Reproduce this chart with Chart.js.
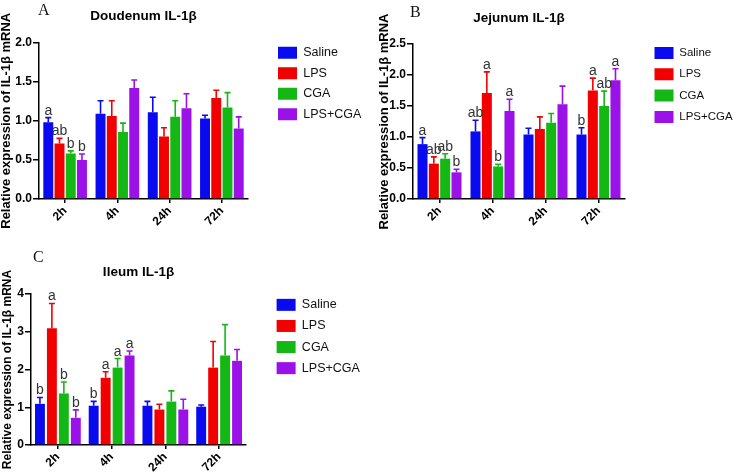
<!DOCTYPE html>
<html>
<head>
<meta charset="utf-8">
<title>IL-1β mRNA</title>
<script src="https://cdn.jsdelivr.net/npm/chart.js@4.4.1/dist/chart.umd.min.js"></script>
<style>
  html, body { margin: 0; padding: 0; background: #fff; }
  #wrap { position: relative; width: 736px; height: 475px; overflow: hidden; }
  .box { position: absolute; }
  .tag { position: absolute; font-family: "Liberation Serif", "Times New Roman", serif; font-size: 16px; line-height: 16px; color: #111; }
</style>
</head>
<body>
<div id="wrap">
  <div class="box" style="left:0;top:0;width:370px;height:232px"><canvas id="duoChart" width="370" height="232"></canvas></div>
  <div class="box" style="left:362px;top:0;width:380px;height:232px"><canvas id="jejChart" width="380" height="232"></canvas></div>
  <div class="box" style="left:0;top:240px;width:370px;height:235px"><canvas id="ileChart" width="370" height="235"></canvas></div>
  <div class="tag" style="left:38px;top:2px">A</div>
  <div class="tag" style="left:410px;top:4px">B</div>
  <div class="tag" style="left:33px;top:249px">C</div>
</div>
<script>
// ── Data ─────────────────────────────────────────────
const timePoints = ['2h', '4h', '24h', '72h'];
const groups     = ['Saline', 'LPS', 'CGA', 'LPS+CGA'];
const colors     = ['#0a0af0', '#f20000', '#14b814', '#9a12e8'];

// Duodenum
const duoSaline     = [0.98, 1.09, 1.11, 1.03];
const duoSalineErr  = [0.06, 0.165, 0.19, 0.04];
const duoLps        = [0.71, 1.06, 0.80, 1.29];
const duoLpsErr     = [0.065, 0.195, 0.11, 0.10];
const duoCga        = [0.58, 0.855, 1.05, 1.17];
const duoCgaErr     = [0.035, 0.115, 0.205, 0.19];
const duoLpsCga     = [0.50, 1.42, 1.16, 0.90];
const duoLpsCgaErr  = [0.075, 0.10, 0.185, 0.15];
const duoLetters    = [['a', '', '', ''], ['ab', '', '', ''], ['b', '', '', ''], ['b', '', '', '']];
const duoTicks      = [0, 0.5, 1.0, 1.5, 2.0];

// Jejunum
const jejSaline     = [0.885, 1.09, 1.04, 1.04];
const jejSalineErr  = [0.105, 0.18, 0.10, 0.11];
const jejLps        = [0.57, 1.71, 1.13, 1.75];
const jejLpsErr     = [0.11, 0.34, 0.195, 0.20];
const jejCga        = [0.65, 0.525, 1.23, 1.50];
const jejCgaErr     = [0.08, 0.035, 0.15, 0.24];
const jejLpsCga     = [0.43, 1.42, 1.53, 1.915];
const jejLpsCgaErr  = [0.05, 0.19, 0.29, 0.185];
const jejLetters    = [['a', 'ab', '', 'b'], ['ab', 'a', '', 'a'], ['ab', 'b', '', 'ab'], ['b', 'a', '', 'a']];
const jejTicks      = [0, 0.5, 1.0, 1.5, 2.0, 2.5];

// Ileum
const ileSaline     = [1.09, 1.04, 1.04, 1.015];
const ileSalineErr  = [0.17, 0.115, 0.115, 0.045];
const ileLps        = [3.09, 1.78, 0.94, 2.05];
const ileLpsErr     = [0.66, 0.16, 0.14, 0.69];
const ileCga        = [1.365, 2.05, 1.15, 2.37];
const ileCgaErr     = [0.305, 0.24, 0.285, 0.82];
const ileLpsCga     = [0.72, 2.37, 0.94, 2.23];
const ileLpsCgaErr  = [0.21, 0.12, 0.27, 0.30];
const ileLetters    = [['b', 'b', '', ''], ['a', 'a', '', ''], ['b', 'a', '', ''], ['b', 'a', '', '']];
const ileTicks      = [0, 1, 2, 3, 4];

Chart.defaults.font.family = '"Liberation Sans", Arial, Helvetica, sans-serif';
Chart.defaults.color = '#000';

/* ── Error bars + significance letters ───────────── */
const errorBars = {
  id: 'errorBars',
  afterDatasetsDraw(chart) {
    const { ctx } = chart;
    const yScale = chart.scales.y;
    chart.data.datasets.forEach((ds, di) => {
      const meta = chart.getDatasetMeta(di);
      meta.data.forEach((bar, i) => {
        const yCap = yScale.getPixelForValue(ds.data[i] + ds.errors[i]);
        ctx.save();
        ctx.strokeStyle = ds.backgroundColor;
        ctx.lineWidth = 1.6;
        ctx.beginPath();
        ctx.moveTo(bar.x, bar.y);
        ctx.lineTo(bar.x, yCap);
        ctx.moveTo(bar.x - 3, yCap);
        ctx.lineTo(bar.x + 3, yCap);
        ctx.stroke();
        const txt = ds.letters[i];
        if (txt) {
          ctx.fillStyle = '#333';
          ctx.font = '14px "Liberation Sans", Arial, sans-serif';
          ctx.textAlign = 'center';
          ctx.textBaseline = 'alphabetic';
          ctx.fillText(txt, bar.x, yCap - 3);
        }
        ctx.restore();
      });
    });
  }
};

function makePanel(id, p) {
  const datasets = groups.map((g, k) => ({
    label: g,
    data: p.values[k],
    errors: p.errors[k],
    letters: p.letters[k],
    backgroundColor: colors[k],
    borderWidth: 0,
    barPercentage: p.barPct,
    categoryPercentage: p.catPct,
  }));

  return new Chart(document.getElementById(id), {
    type: 'bar',
    data: { labels: timePoints, datasets },
    plugins: [errorBars],
    options: {
      responsive: false,
      animation: false,
      layout: { padding: { left: 0, right: p.padRight, top: 0, bottom: 0 } },
      scales: {
        x: {
          grid: { display: true, drawOnChartArea: false, offset: false, tickLength: 4, color: '#000', lineWidth: 1.5 },
          border: { display: true, color: '#000', width: 1.5 },
          ticks: { color: '#000', font: { size: 12, weight: 'bold' }, minRotation: 45, maxRotation: 45, padding: 1 },
          afterFit: s => { s.height = p.xHeight; },
        },
        y: {
          min: p.ticks[0],
          max: p.ticks[p.ticks.length - 1],
          afterBuildTicks: s => { s.ticks = p.ticks.map(v => ({ value: v })); },
          grid: { display: true, drawOnChartArea: false, tickLength: 6, color: '#000', lineWidth: 1.5 },
          border: { display: true, color: '#000', width: 1.5 },
          ticks: { color: '#000', font: { size: 12, weight: 'bold' }, padding: 1, callback: v => p.fmt(v) },
          title: {
            display: true,
            text: 'Relative expression of IL-1β mRNA',
            color: '#000',
            font: { size: p.yTitleSize, weight: 'bold', lineHeight: 1 },
            padding: { top: p.yTitlePad, bottom: 0 },
          },
          afterFit: s => { s.width = p.yWidth; },
        },
        gap: {
          type: 'linear',
          position: 'right',
          display: true,
          grid: { display: false },
          border: { display: false },
          ticks: { display: false },
          afterFit: s => { s.width = p.gapWidth; },
        },
      },
      plugins: {
        title: {
          display: true,
          text: p.title,
          fullSize: false,
          color: '#000',
          font: { size: 13.5, weight: 'bold' },
          padding: { top: p.titleTop, bottom: p.titleBottom },
        },
        legend: {
          position: 'right',
          align: 'start',
          fullSize: true,
          maxWidth: 94,
          title: { display: true, text: '', font: { size: 10 }, padding: { top: p.legendOffset, bottom: 0 } },
          labels: { boxWidth: 19, boxHeight: 12, padding: p.legendPad, color: '#111', font: { size: p.legendFont } },
        },
        tooltip: { enabled: false },
      },
    },
  });
}

makePanel('duoChart', {
  title: 'Doudenum IL-1β',
  values: [duoSaline, duoLps, duoCga, duoLpsCga],
  errors: [duoSalineErr, duoLpsErr, duoCgaErr, duoLpsCgaErr],
  letters: duoLetters,
  ticks: duoTicks,
  fmt: v => v.toFixed(1),
  barPct: 0.885, catPct: 0.86,
  yWidth: 39, xHeight: 33, gapWidth: 22, padRight: 6,
  yTitleSize: 13, yTitlePad: 0, titleTop: 8, titleBottom: 18.3,
  legendOffset: 26.5, legendPad: 8, legendFont: 12.5,
});

makePanel('jejChart', {
  title: 'Jejunum IL-1β',
  values: [jejSaline, jejLps, jejCga, jejLpsCga],
  errors: [jejSalineErr, jejLpsErr, jejCgaErr, jejLpsCgaErr],
  letters: jejLetters,
  ticks: jejTicks,
  fmt: v => v.toFixed(1),
  barPct: 0.885, catPct: 0.855,
  yWidth: 51, xHeight: 33, gapWidth: 20.2, padRight: 2.8,
  yTitleSize: 13, yTitlePad: 16, titleTop: 10, titleBottom: 17.8,
  legendOffset: 25.7, legendPad: 9.3, legendFont: 11.5,
});

makePanel('ileChart', {
  title: 'Ileum IL-1β',
  values: [ileSaline, ileLps, ileCga, ileLpsCga],
  errors: [ileSalineErr, ileLpsErr, ileCgaErr, ileLpsCgaErr],
  letters: ileLetters,
  ticks: ileTicks,
  fmt: v => String(v),
  barPct: 0.83, catPct: 0.89,
  yWidth: 31, xHeight: 30, gapWidth: 22, padRight: 8,
  yTitleSize: 12, yTitlePad: 2, titleTop: 24, titleBottom: 13.8,
  legendOffset: 38, legendPad: 8.6, legendFont: 12.5,
});
</script>
</body>
</html>
